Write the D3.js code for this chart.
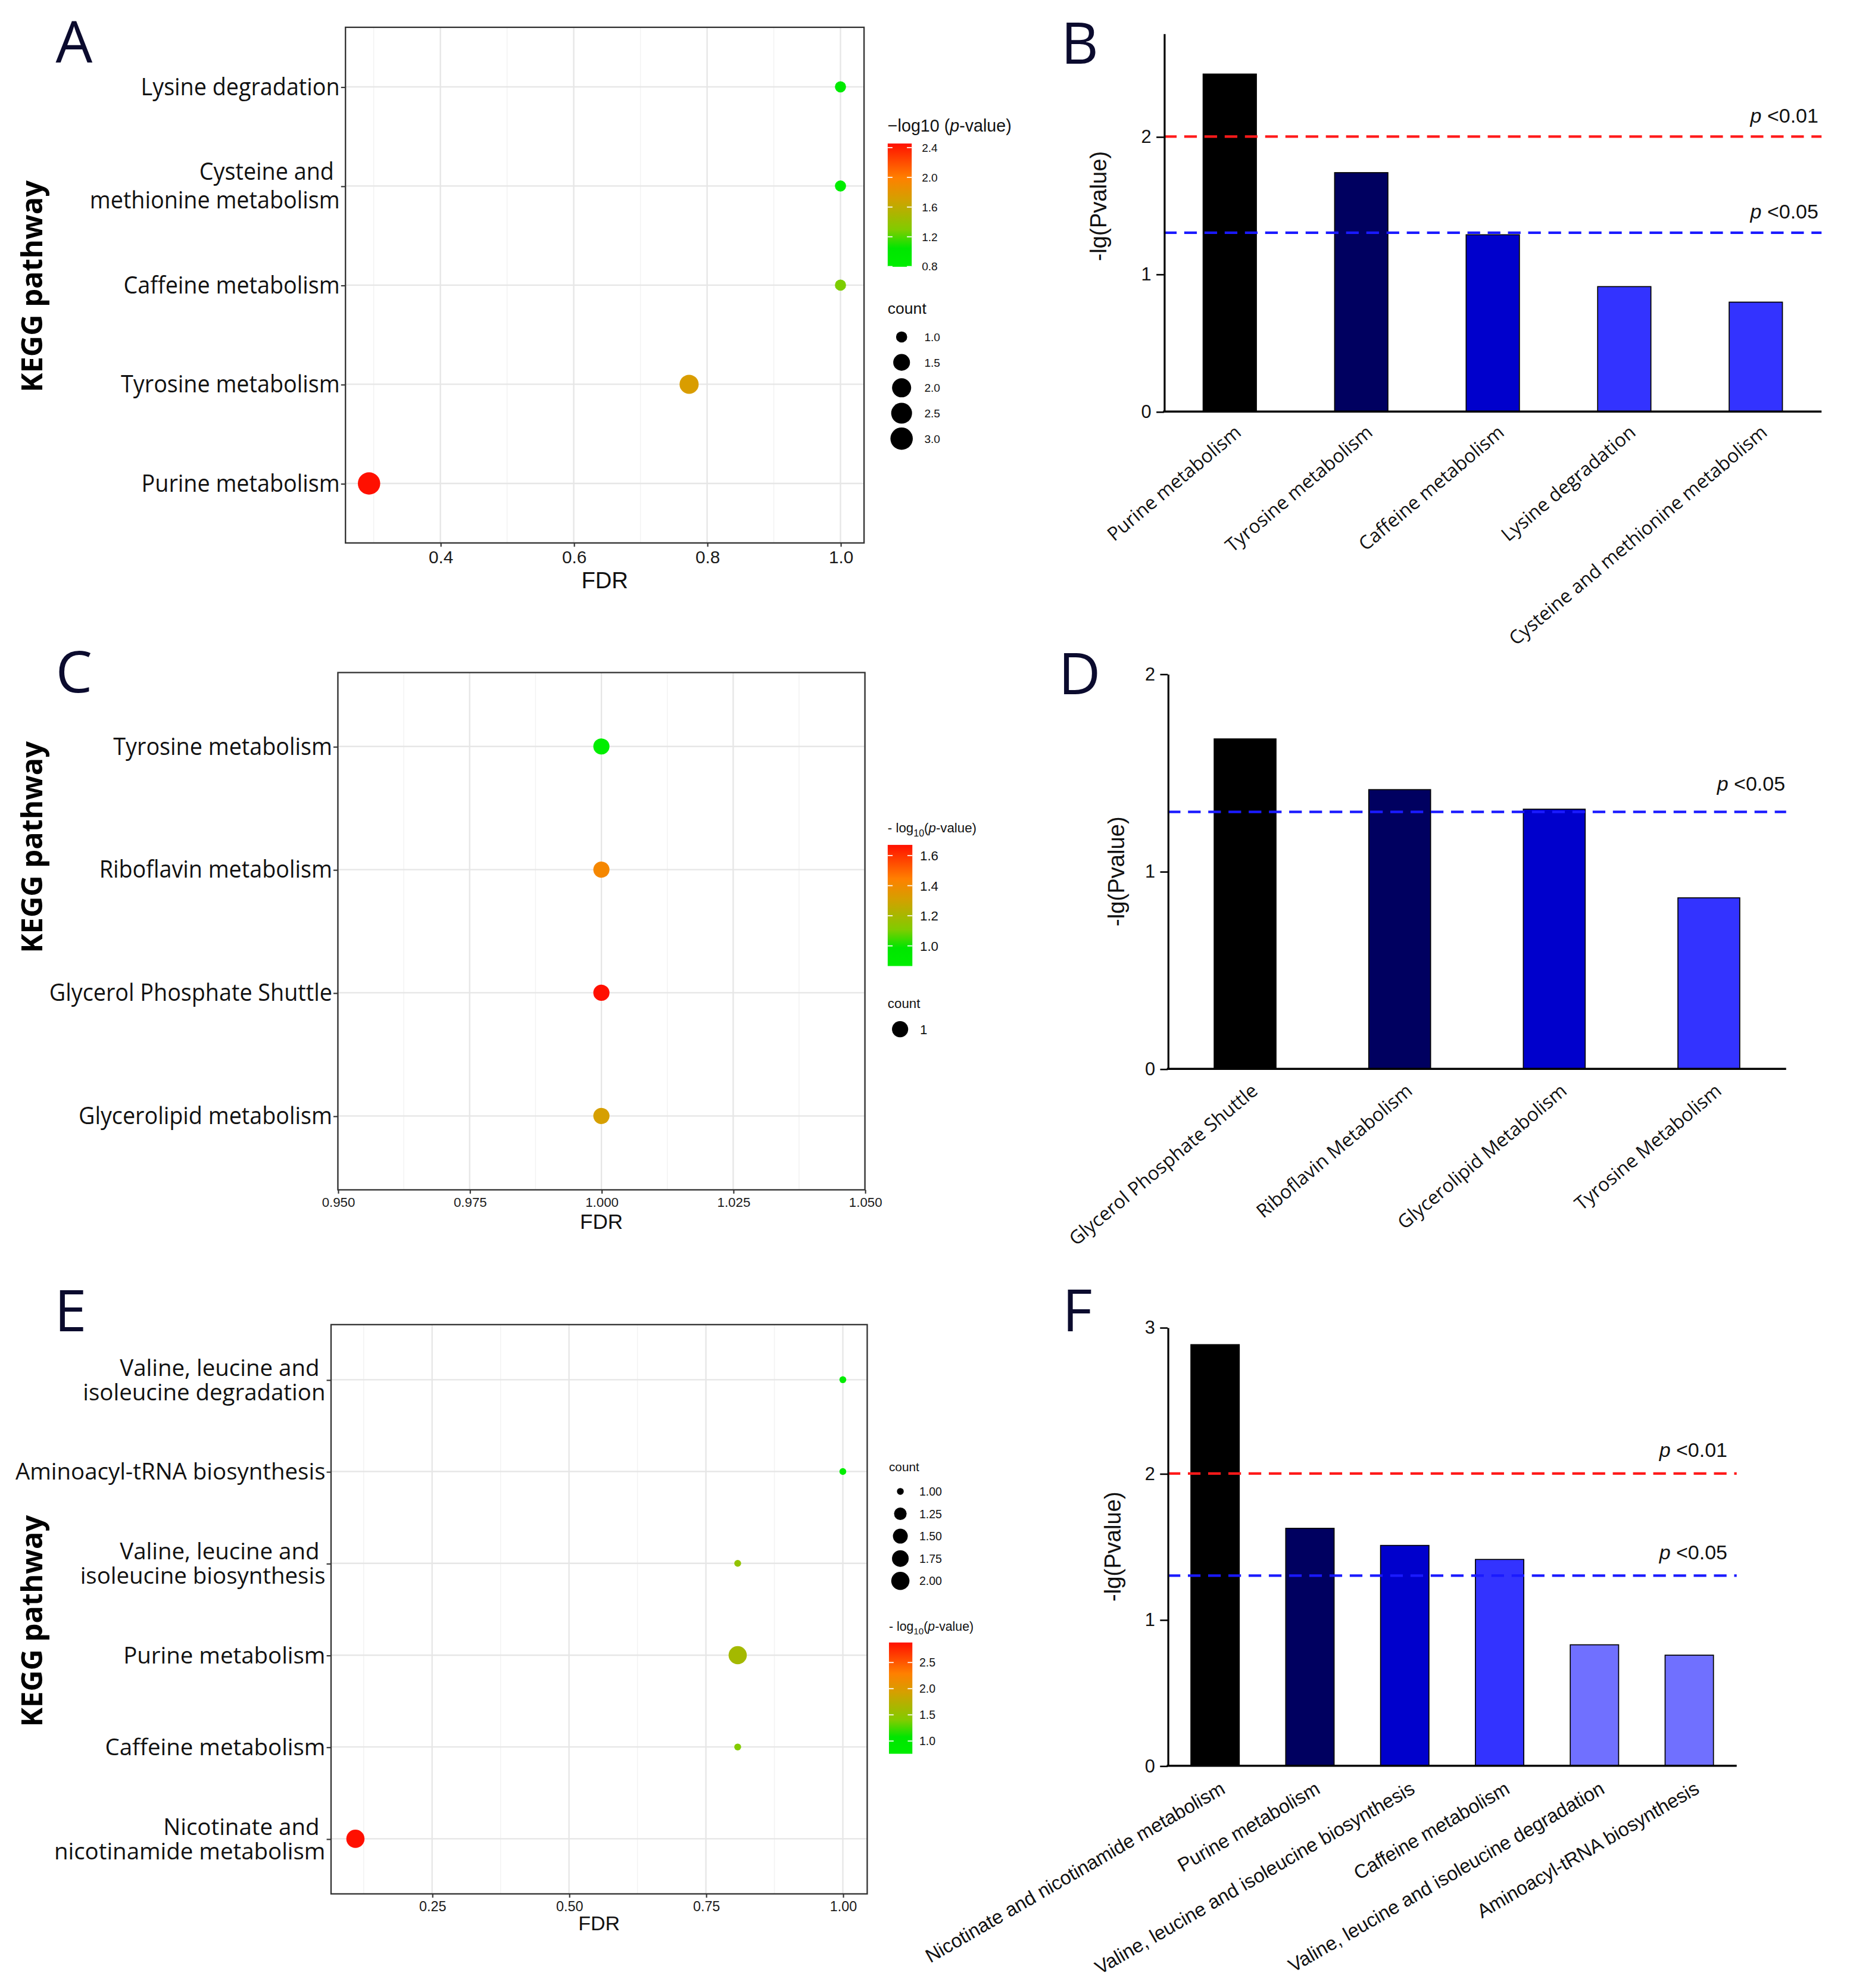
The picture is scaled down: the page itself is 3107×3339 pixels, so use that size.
<!DOCTYPE html>
<html>
<head>
<meta charset="utf-8">
<script src="https://cdn.jsdelivr.net/npm/d3@7/dist/d3.min.js"></script>
<style>
  html, body { margin: 0; padding: 0; background: #fff; }
  svg { display: block; }
  .ylab { white-space: pre; }
</style>
</head>
<body>
<div id="figure"></div>
<script>
// ===== data =====

// A: KEGG bubble plot (top to bottom)
const pathA = ["Lysine degradation", "Cysteine and \nmethionine metabolism", "Caffeine metabolism", "Tyrosine metabolism", "Purine metabolism"];
const fdrA = [1.0, 1.0, 1.0, 0.773, 0.293];
const countA = [1, 1, 1, 2, 3];
const logpA = [0.909, 0.796, 1.286, 1.738, 2.455];
const fdrTicksA = [0.4, 0.6, 0.8, 1.0];
const colorTicksA = [0.8, 1.2, 1.6, 2.0, 2.4];
const countTicksA = [1.0, 1.5, 2.0, 2.5, 3.0];

// B: bars
const barNamesB = ["Purine metabolism", "Tyrosine metabolism", "Caffeine metabolism", "Lysine degradation", "Cysteine and methionine metabolism"];
const barValuesB = [2.455, 1.738, 1.286, 0.909, 0.796];
const barColorsB = ["#000000", "#000060", "#0000cc", "#3333ff", "#3333ff"];
const yTicksB = [0, 1, 2];
const pCutsB = [0.01, 0.05];

// C
const pathC = ["Tyrosine metabolism", "Riboflavin metabolism", "Glycerol Phosphate Shuttle", "Glycerolipid metabolism"];
const fdrC = [1.0, 1.0, 1.0, 1.0];
const countC = [1, 1, 1, 1];
const logpC = [0.866, 1.414, 1.671, 1.315];
const fdrTicksC = [0.950, 0.975, 1.000, 1.025, 1.050];
const colorTicksC = [1.0, 1.2, 1.4, 1.6];
const countTicksC = [1];

// D
const barNamesD = ["Glycerol Phosphate Shuttle", "Riboflavin Metabolism", "Glycerolipid Metabolism", "Tyrosine Metabolism"];
const barValuesD = [1.671, 1.414, 1.315, 0.866];
const barColorsD = ["#000000", "#000060", "#0000cc", "#3333ff"];
const yTicksD = [0, 1, 2];
const pCutsD = [0.05];

// E
const pathE = ["Valine, leucine and \nisoleucine degradation", "Aminoacyl-tRNA biosynthesis", "Valine, leucine and \nisoleucine biosynthesis", "Purine metabolism", "Caffeine metabolism", "Nicotinate and \nnicotinamide metabolism"];
const fdrE = [1.0, 1.0, 0.808, 0.808, 0.808, 0.11];
const countE = [1, 1, 1, 2, 1, 2];
const logpE = [0.828, 0.757, 1.508, 1.625, 1.412, 2.882];
const fdrTicksE = [0.25, 0.50, 0.75, 1.00];
const colorTicksE = [1.0, 1.5, 2.0, 2.5];
const countTicksE = [1.00, 1.25, 1.50, 1.75, 2.00];

// F
const barNamesF = ["Nicotinate and nicotinamide metabolism", "Purine metabolism", "Valine, leucine and isoleucine biosynthesis", "Caffeine metabolism", "Valine, leucine and isoleucine degradation", "Aminoacyl-tRNA biosynthesis"];
const barValuesF = [2.882, 1.625, 1.508, 1.412, 0.828, 0.757];
const barColorsF = ["#000000", "#000060", "#0000cc", "#3333ff", "#7070ff", "#7070ff"];
const yTicksF = [0, 1, 2, 3];
const pCutsF = [0.01, 0.05];

// green -> orange -> red, stops as fraction of the data range
const GRAD_POS = [0, 0.15, 0.3, 0.55, 0.72, 1];
const GRAD_COL = ["#00ee00", "#00e600", "#80cc00", "#d4a000", "#ff8000", "#ff1000"];

// ===== drawing =====
const W = 3107, H = 3339;
const K = W / 1463;   // layout below is in units of the 1463 px wide preview
const UI = "'Open Sans', 'Noto Sans', sans-serif";
const ARIAL = "'Liberation Sans', Arial, sans-serif";

const svg = d3.select("#figure").append("svg")
    .attr("width", W)
    .attr("height", H);
svg.append("rect").attr("width", W).attr("height", H).attr("fill", "#fff");
const defs = svg.append("defs");
const root = svg.append("g").attr("transform", `scale(${K})`);

function panelLetter(txt, x, y) {
  root.append("text")
    .attr("x", x).attr("y", y)
    .text(txt)
    .style("font-family", UI)
    .style("font-size", "46px")
    .attr("fill", "#0b0b2e");
}

function heatColor(values) {
  const [lo, hi] = d3.extent(values);
  return d3.scaleLinear()
    .domain(GRAD_POS.map(t => lo + t * (hi - lo)))
    .range(GRAD_COL)
    .clamp(true);
}

function drawDots(o) {
  const g = root.append("g");
  const b = o.box;

  // 1. scales (ggplot style 5% expansion)
  const [lo, hi] = d3.extent(o.fdr);
  const pad = hi > lo ? (hi - lo) * 0.05 : Math.abs(hi) * 0.05;
  const x = d3.scaleLinear().domain([lo - pad, hi + pad]).range([b.left, b.right]);
  const y = d3.scalePoint().domain(o.names).range([b.top, b.bottom]).padding(0.6);
  const color = heatColor(o.logp);
  const [c0, c1] = d3.extent(o.count);
  const radius = v => c1 > c0
    ? o.r[0] + (o.r[1] - o.r[0]) * Math.sqrt((v - c0) / (c1 - c0))
    : o.r[1];

  // 2. grid
  const step = o.fdrTicks[1] - o.fdrTicks[0];
  const minor = d3.range(o.fdrTicks[0] - step / 2, x.domain()[1], step)
    .filter(v => v > x.domain()[0] && v < x.domain()[1]);
  g.selectAll("line.minor").data(minor).enter().append("line")
    .attr("x1", d => x(d)).attr("x2", d => x(d))
    .attr("y1", b.top).attr("y2", b.bottom)
    .attr("stroke", "#f2f2f2").attr("stroke-width", 0.7);
  g.selectAll("line.vmajor").data(o.fdrTicks).enter().append("line")
    .attr("x1", d => x(d)).attr("x2", d => x(d))
    .attr("y1", b.top).attr("y2", b.bottom)
    .attr("stroke", "#e6e6e6").attr("stroke-width", 1.1);
  g.selectAll("line.hmajor").data(o.names).enter().append("line")
    .attr("x1", b.left).attr("x2", b.right)
    .attr("y1", d => y(d)).attr("y2", d => y(d))
    .attr("stroke", "#e6e6e6").attr("stroke-width", 1.1);

  g.append("rect")
    .attr("x", b.left).attr("y", b.top)
    .attr("width", b.right - b.left).attr("height", b.bottom - b.top)
    .attr("fill", "none").attr("stroke", "#333").attr("stroke-width", 1.1);

  // 3. axes
  const xAxis = g.append("g")
      .attr("transform", `translate(0,${b.bottom})`)
      .call(d3.axisBottom(x).tickValues(o.fdrTicks).tickFormat(d3.format(o.fdrFmt))
        .tickSizeInner(3).tickSizeOuter(0).tickPadding(3));
  xAxis.select(".domain").remove();
  xAxis.selectAll("line").attr("stroke", "#333");
  xAxis.selectAll("text")
    .style("font-family", ARIAL).style("font-size", o.tickFont + "px").attr("fill", "#1a1a1a");

  const yAxis = g.append("g")
      .attr("transform", `translate(${b.left},0)`)
      .call(d3.axisLeft(y).tickSizeInner(3.5).tickSizeOuter(0));
  yAxis.select(".domain").remove();
  yAxis.selectAll("line").attr("stroke", "#333");
  const sq = o.labelSqueeze;
  yAxis.selectAll(".tick text").each(function(d) {
    const t = d3.select(this).text(null).attr("dy", null).attr("x", null)
      .attr("class", "ylab")
      .attr("transform", `scale(${sq},1)`)
      .style("font-family", UI).style("font-size", o.labelFont + "px").attr("fill", "#111");
    const lines = d.split("\n");
    lines.forEach((ln, i) => {
      t.append("tspan")
        .attr("x", -4.5 / sq)
        .attr("y", 6 + (i - (lines.length - 1) / 2) * o.lineH)
        .text(ln);
    });
  });

  g.append("text")
    .attr("transform", `translate(${b.left + (b.right - b.left) / 2},${o.fdrTitleY})`)
    .attr("text-anchor", "middle")
    .text("FDR")
    .style("font-family", ARIAL).style("font-size", o.fdrTitleFont + "px").attr("fill", "#111");

  g.append("text")
    .attr("transform", `translate(33.5,${o.keggY}) rotate(-90)`)
    .attr("text-anchor", "middle")
    .text("KEGG pathway")
    .style("font-family", UI).style("font-weight", "bold").style("font-size", "23px")
    .attr("fill", "#000");

  // 4. points
  g.selectAll("circle.pt").data(o.names).enter().append("circle")
    .attr("cx", (d, i) => x(o.fdr[i]))
    .attr("cy", d => y(d))
    .attr("r", (d, i) => radius(o.count[i]))
    .attr("fill", (d, i) => color(o.logp[i]));

  // 5. colour bar legend
  const cl = o.colorLegend;
  const title = g.append("text")
    .attr("x", cl.x).attr("y", cl.titleY)
    .style("font-family", ARIAL).style("font-size", cl.titleFont + "px").attr("fill", "#111");
  if (cl.sub) {
    title.append("tspan").text("- log");
    title.append("tspan").text("10").attr("dy", 3).style("font-size", (cl.titleFont * 0.72) + "px");
    title.append("tspan").text("(").attr("dy", -3);
  } else {
    title.append("tspan").text("\u2212log10 (");
  }
  title.append("tspan").text("p").style("font-style", "italic");
  title.append("tspan").text("-value)");

  const gid = "grad" + o.id;
  const grad = defs.append("linearGradient")
    .attr("id", gid).attr("x1", 0).attr("y1", 1).attr("x2", 0).attr("y2", 0);
  GRAD_POS.forEach((t, i) => grad.append("stop").attr("offset", t).attr("stop-color", GRAD_COL[i]));

  g.append("rect")
    .attr("x", cl.x).attr("y", cl.barTop)
    .attr("width", cl.w).attr("height", cl.barBottom - cl.barTop)
    .attr("fill", `url(#${gid})`);
  const yb = d3.scaleLinear().domain(d3.extent(o.logp)).range([cl.barBottom, cl.barTop]);
  o.colorTicks.forEach(t => {
    const ty = yb(t);
    [[cl.x, cl.x + cl.w * 0.2], [cl.x + cl.w * 0.8, cl.x + cl.w]].forEach(([a1, a2]) => {
      g.append("line").attr("x1", a1).attr("x2", a2).attr("y1", ty).attr("y2", ty)
        .attr("stroke", "#fff").attr("stroke-width", 0.8);
    });
    g.append("text")
      .attr("x", cl.labelX).attr("y", ty + cl.tickFont * 0.36)
      .text(d3.format(".1f")(t))
      .style("font-family", ARIAL).style("font-size", cl.tickFont + "px").attr("fill", "#111");
  });

  // 6. size legend
  const sl = o.sizeLegend;
  g.append("text")
    .attr("x", sl.x).attr("y", sl.titleY)
    .text("count")
    .style("font-family", ARIAL).style("font-size", sl.titleFont + "px").attr("fill", "#111");
  o.countTicks.forEach((v, i) => {
    const cy = sl.rowY + i * sl.rowStep;
    g.append("circle").attr("cx", sl.dotX).attr("cy", cy).attr("r", radius(v)).attr("fill", "#000");
    g.append("text")
      .attr("x", sl.labelX).attr("y", cy + sl.tickFont * 0.36)
      .text(d3.format(sl.fmt)(v))
      .style("font-family", ARIAL).style("font-size", sl.tickFont + "px").attr("fill", "#111");
  });
}

function drawBars(o) {
  const g = root.append("g");
  const a = o.axis;

  const x = d3.scaleBand().domain(o.names).range([a.left, a.right]);
  const y = d3.scaleLinear().domain([0, o.yMax]).range([a.bottom, a.top]);
  const bw = x.bandwidth() * o.barFrac;

  // bars
  g.selectAll("rect.bar").data(o.values).enter().append("rect")
    .attr("x", (d, i) => x(o.names[i]) + (x.bandwidth() - bw) / 2)
    .attr("y", d => y(d))
    .attr("width", bw)
    .attr("height", d => a.bottom - y(d))
    .attr("fill", (d, i) => o.colors[i])
    .attr("stroke", "#000").attr("stroke-width", 0.8);

  // significance lines
  o.cuts.forEach(p => {
    const ly = y(-Math.log10(p));
    g.append("line")
      .attr("x1", a.left).attr("x2", a.right).attr("y1", ly).attr("y2", ly)
      .attr("stroke", p < 0.02 ? "#ff1a1a" : "#1a1aff")
      .attr("stroke-width", 2).attr("stroke-dasharray", "10,6");
    const t = g.append("text")
      .attr("x", o.cutLabelX).attr("y", ly - o.cutLift)
      .attr("text-anchor", "end")
      .style("font-family", ARIAL).style("font-size", "16px").attr("fill", "#111");
    t.append("tspan").text("p").style("font-style", "italic");
    t.append("tspan").text(" <" + p);
  });

  // axes
  const yAxis = g.append("g")
      .attr("transform", `translate(${a.left},0)`)
      .call(d3.axisLeft(y).tickValues(o.ticks).tickFormat(d3.format("d"))
        .tickSizeInner(6).tickSizeOuter(0).tickPadding(4));
  yAxis.select(".domain").attr("stroke", "#000").attr("stroke-width", 1.5);
  yAxis.selectAll("line").attr("stroke", "#000").attr("stroke-width", 1.2);
  yAxis.selectAll("text")
    .style("font-family", ARIAL).style("font-size", "14.5px").attr("fill", "#111");

  g.append("line")
    .attr("x1", a.left - 0.75).attr("x2", a.right)
    .attr("y1", a.bottom).attr("y2", a.bottom)
    .attr("stroke", "#000").attr("stroke-width", 1.6);

  g.append("text")
    .attr("transform", `translate(${o.yTitleX},${(a.top + a.bottom) / 2 + o.yTitleShift}) rotate(-90)`)
    .attr("text-anchor", "middle")
    .text("-lg(Pvalue)")
    .style("font-family", ARIAL).style("font-size", "18px").attr("fill", "#111");

  // category labels
  g.selectAll("text.xlab").data(o.names).enter().append("text")
    .attr("transform", d => `translate(${x(d) + x.bandwidth() / 2 + o.labDx},${a.bottom + o.labDy}) rotate(${-o.angle})`)
    .attr("text-anchor", "end")
    .text(d => d)
    .style("font-family", o.labFamily).style("font-size", o.labFont + "px").attr("fill", "#111");
}

// ----- A / B -----
panelLetter("A", 44, 49.6);
drawDots({
  id: "A", names: pathA, fdr: fdrA, count: countA, logp: logpA,
  box: { left: 273.2, right: 683.3, top: 21.6, bottom: 429.4 },
  fdrTicks: fdrTicksA, fdrFmt: ".1f", tickFont: 14, fdrTitleY: 465, fdrTitleFont: 18,
  labelFont: 19, labelSqueeze: 0.935, lineH: 22.3, keggY: 226.5, r: [4.4, 8.85],
  colorTicks: colorTicksA,
  colorLegend: { x: 702, w: 19, titleY: 104, barTop: 113.5, barBottom: 211, labelX: 729, titleFont: 13.5, tickFont: 9, sub: false },
  countTicks: countTicksA,
  sizeLegend: { x: 702, titleY: 248, dotX: 713, rowY: 266.5, rowStep: 20.1, labelX: 731, titleFont: 12.5, tickFont: 9, fmt: ".1f" }
});

panelLetter("B", 839, 50.6);
drawBars({
  names: barNamesB, values: barValuesB, colors: barColorsB, ticks: yTicksB, cuts: pCutsB,
  axis: { left: 920.5, right: 1440.5, top: 26.5, bottom: 325.5 }, yMax: 2.75,
  barFrac: 0.405, cutLabelX: 1438, cutLift: 11, yTitleX: 875, yTitleShift: -13,
  angle: 40, labDx: 10, labDy: 18, labFamily: UI, labFont: 15
});

// ----- C / D -----
panelLetter("C", 44, 547.4);
drawDots({
  id: "C", names: pathC, fdr: fdrC, count: countC, logp: logpC,
  box: { left: 267.2, right: 684, top: 531.9, bottom: 941 },
  fdrTicks: fdrTicksC, fdrFmt: ".3f", tickFont: 10.5, fdrTitleY: 972, fdrTitleFont: 16.5,
  labelFont: 19, labelSqueeze: 0.935, lineH: 22.3, keggY: 670, r: [6.4, 6.4],
  colorTicks: colorTicksC,
  colorLegend: { x: 702, w: 19.5, titleY: 658.4, barTop: 668.2, barBottom: 764, labelX: 727.5, titleFont: 10.5, tickFont: 10.5, sub: true },
  countTicks: countTicksC,
  sizeLegend: { x: 702, titleY: 797.3, dotX: 711.8, rowY: 814, rowStep: 18, labelX: 727.5, titleFont: 10.5, tickFont: 10.5, fmt: "d" }
});

panelLetter("D", 837, 549);
drawBars({
  names: barNamesD, values: barValuesD, colors: barColorsD, ticks: yTicksD, cuts: pCutsD,
  axis: { left: 923.5, right: 1412.5, top: 533, bottom: 845.3 }, yMax: 2,
  barFrac: 0.4, cutLabelX: 1411.7, cutLift: 16.8, yTitleX: 889, yTitleShift: 0,
  angle: 40, labDx: 11, labDy: 19, labFamily: UI, labFont: 15
});

// ----- E / F -----
panelLetter("E", 43, 1052.7);
drawDots({
  id: "E", names: pathE, fdr: fdrE, count: countE, logp: logpE,
  box: { left: 261.8, right: 685.8, top: 1047.6, bottom: 1497.8 },
  fdrTicks: fdrTicksE, fdrFmt: ".2f", tickFont: 11, fdrTitleY: 1526.4, fdrTitleFont: 16,
  labelFont: 18.1, labelSqueeze: 1, lineH: 19.4, keggY: 1282, r: [2.7, 7.2],
  colorTicks: colorTicksE,
  colorLegend: { x: 703, w: 18.5, titleY: 1289.5, barTop: 1299, barBottom: 1387, labelX: 727, titleFont: 10, tickFont: 9.2, sub: true },
  countTicks: countTicksE,
  sizeLegend: { x: 703, titleY: 1163.5, dotX: 712, rowY: 1179.5, rowStep: 17.7, labelX: 727, titleFont: 9.8, tickFont: 9.2, fmt: ".2f" }
});

panelLetter("F", 840, 1053);
drawBars({
  names: barNamesF, values: barValuesF, colors: barColorsF, ticks: yTicksF, cuts: pCutsF,
  axis: { left: 923.4, right: 1373.4, top: 1049.8, bottom: 1396.5 }, yMax: 3,
  barFrac: 0.51, cutLabelX: 1366, cutLift: 13, yTitleX: 886, yTitleShift: 0,
  angle: 30, labDx: 9, labDy: 21, labFamily: ARIAL, labFont: 15.3
});
</script>
</body>
</html>
